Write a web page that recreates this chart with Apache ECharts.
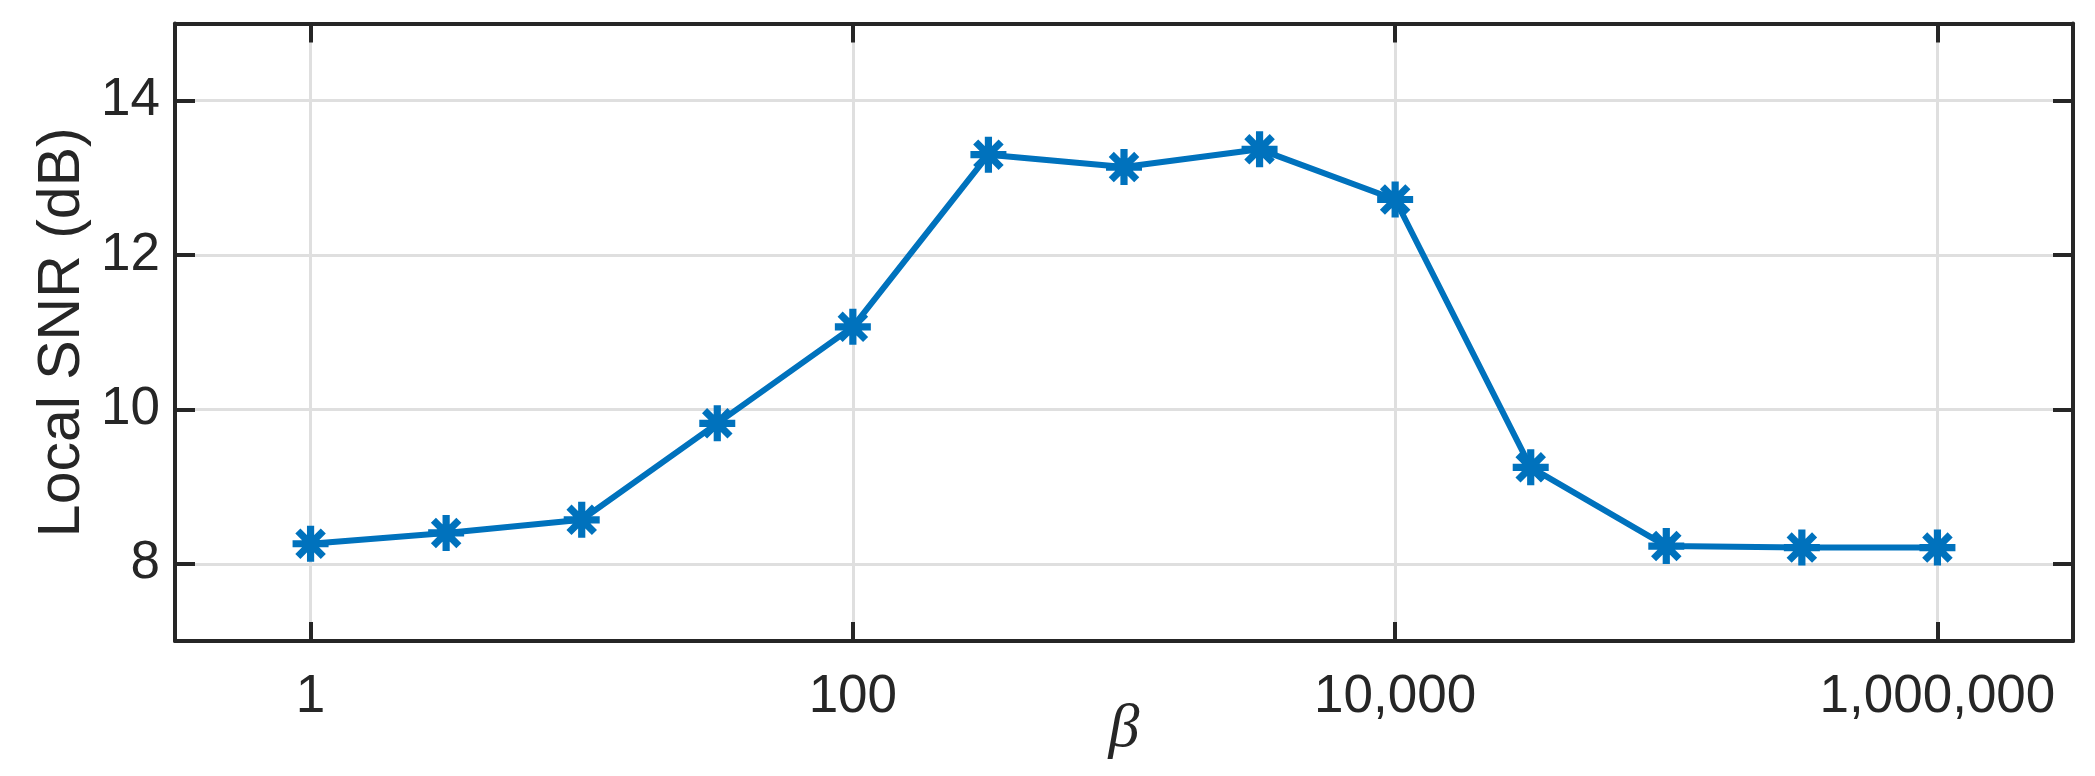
<!DOCTYPE html>
<html>
<head>
<meta charset="utf-8">
<script src="https://cdn.jsdelivr.net/npm/echarts@6/dist/echarts.min.js"></script>
<style>
  html, body { margin: 0; padding: 0; background: #fff; }
  #chart { width: 2095px; height: 776px; }
</style>
</head>
<body>
<div id="chart"></div>
<script>
// beta values (log-spaced, half decades) and measured local SNR
const betaValues = [1, 3.162, 10, 31.62, 100, 316.2, 1000, 3162, 10000, 31623, 100000, 316228, 1000000];
const snrValues = [8.26, 8.40, 8.57, 9.82, 11.07, 13.30, 13.14, 13.37, 12.72, 9.25, 8.23, 8.21, 8.21];
const xTickValues = [1, 100, 10000, 1000000];
const yTickValues = [8, 10, 12, 14];

const textColor = '#262626';
const gridColor = '#dfdfdf';
const lineBlue = '#0072BD';

// asterisk marker (matlab '*'): vertical, horizontal and two diagonal arms
const asterisk = 'path://M40 0L60 0L60 100L40 100Z' +
  'M0 40L100 40L100 60L0 60Z' +
  'M7.6 21.7L21.7 7.6L92.4 78.3L78.3 92.4Z' +
  'M78.3 7.6L92.4 21.7L21.7 92.4L7.6 78.3Z';

const chart = echarts.init(document.getElementById('chart'));

const xCommon = {
  type: 'log',
  logBase: 10,
  min: Math.pow(10, -0.5),
  max: Math.pow(10, 6.5),
  axisLine: { show: true, lineStyle: { color: textColor, width: 4 } },
  axisTick: {
    show: true,
    inside: true,
    length: 19,
    customValues: xTickValues,
    lineStyle: { color: textColor, width: 4 }
  }
};

const yCommon = {
  type: 'value',
  min: 7,
  max: 15,
  axisLine: { show: true, lineStyle: { color: textColor, width: 4 } },
  axisTick: {
    show: true,
    inside: true,
    length: 20,
    customValues: yTickValues,
    lineStyle: { color: textColor, width: 4 }
  }
};

chart.setOption({
  animation: false,
  backgroundColor: '#fff',
  grid: {
    left: 175,
    right: 22,
    top: 23.5,
    bottom: 135,
    containLabel: false,
    outerBoundsMode: 'none'
  },
  xAxis: [
    Object.assign({}, xCommon, {
      position: 'bottom',
      name: 'β',
      nameLocation: 'middle',
      nameGap: 58,
      nameMoveOverlap: false,
      nameTextStyle: {
        fontFamily: 'Liberation Serif',
        fontStyle: 'italic',
        fontSize: 62,
        color: textColor
      },
      axisLabel: {
        show: true,
        customValues: xTickValues,
        margin: 30,
        fontFamily: 'Liberation Sans',
        fontSize: 53,
        color: textColor,
        formatter: v => Number(v).toLocaleString('en-US')
      },
      splitLine: { show: true, lineStyle: { color: gridColor, width: 3 } }
    }),
    Object.assign({}, xCommon, {
      position: 'top',
      axisLabel: { show: false },
      splitLine: { show: false }
    })
  ],
  yAxis: [
    Object.assign({}, yCommon, {
      position: 'left',
      name: 'Local SNR (dB)',
      nameLocation: 'middle',
      nameGap: 83,
      nameMoveOverlap: false,
      nameTextStyle: {
        fontFamily: 'Liberation Sans',
        fontSize: 59,
        color: textColor
      },
      axisLabel: {
        show: true,
        customValues: yTickValues,
        margin: 15,
        fontFamily: 'Liberation Sans',
        fontSize: 53,
        color: textColor
      },
      splitLine: { show: true, lineStyle: { color: gridColor, width: 3 } }
    }),
    Object.assign({}, yCommon, {
      position: 'right',
      axisLabel: { show: false },
      splitLine: { show: false }
    })
  ],
  series: [
    {
      type: 'line',
      xAxisIndex: 0,
      yAxisIndex: 0,
      data: betaValues.map((b, i) => [b, snrValues[i]]),
      symbol: asterisk,
      symbolSize: 36,
      showAllSymbol: true,
      itemStyle: { color: lineBlue },
      lineStyle: { color: lineBlue, width: 6 },
      z: 5
    }
  ]
});
</script>
</body>
</html>
